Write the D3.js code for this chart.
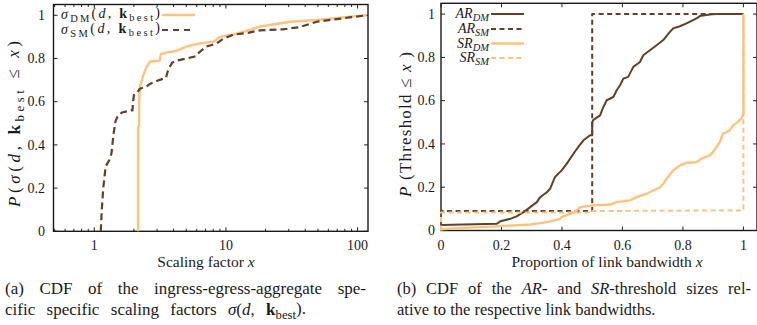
<!DOCTYPE html>
<html>
<head>
<meta charset="utf-8">
<script src="https://cdn.jsdelivr.net/npm/d3@7"></script>
<style>
    body { margin: 0; background: #fff; }
    svg text { font-family: "Liberation Serif", "DejaVu Serif", serif; fill: #1a1a1a; }
</style>
</head>
<body>
<svg id="chart" width="757" height="325"></svg>
<script>
// (a) scaling factors
let dmX = [2.15, 2.15, 2.19, 2.19, 2.22, 2.28, 2.35, 2.49, 2.56, 2.64, 2.8, 3.15, 3.2, 3.53, 4.21, 5.01, 6.33, 8.0, 9.0, 11.35, 12.8, 15.2, 18.1, 24.2, 30.6, 48.8, 65.3, 87.4, 117];
let dmY = [0, 0.48, 0.49, 0.6, 0.67, 0.69, 0.72, 0.76, 0.77, 0.785, 0.787, 0.79, 0.82, 0.827, 0.835, 0.855, 0.87, 0.878, 0.9, 0.91, 0.92, 0.932, 0.948, 0.96, 0.97, 0.978, 0.986, 0.994, 1];
let smX = [1.12, 1.14, 1.17, 1.22, 1.3, 1.35, 1.4, 1.45, 1.5, 1.62, 1.9, 1.95, 1.97, 2.0, 2.1, 2.22, 2.5, 2.6, 3.1, 3.5, 3.65, 3.9, 4.2, 5.0, 5.9, 6.3, 7.1, 8.5, 9.5, 11.3, 15, 18, 27, 36, 49, 65, 87, 117];
let smY = [0, 0.1, 0.2, 0.3, 0.33, 0.36, 0.45, 0.51, 0.53, 0.55, 0.56, 0.56, 0.6, 0.63, 0.64, 0.66, 0.67, 0.68, 0.7, 0.71, 0.75, 0.78, 0.79, 0.8, 0.81, 0.83, 0.855, 0.87, 0.89, 0.91, 0.92, 0.93, 0.935, 0.945, 0.97, 0.98, 0.99, 1];

// (b) threshold sizes relative to link bandwidth
let arDmX = [0, 0.185, 0.196, 0.229, 0.25, 0.273, 0.295, 0.317, 0.328, 0.35, 0.361, 0.372, 0.377, 0.399, 0.416, 0.438, 0.454, 0.471, 0.493, 0.5, 0.5, 0.503, 0.526, 0.537, 0.548, 0.57, 0.581, 0.592, 0.603, 0.619, 0.636, 0.658, 0.669, 0.691, 0.713, 0.735, 0.757, 0.768, 0.79, 0.812, 0.845, 0.856, 0.889, 0.911, 1];
let arDmY = [0.025, 0.031, 0.043, 0.054, 0.065, 0.085, 0.108, 0.131, 0.154, 0.177, 0.193, 0.231, 0.247, 0.278, 0.309, 0.355, 0.386, 0.417, 0.44, 0.44, 0.5, 0.51, 0.532, 0.571, 0.602, 0.617, 0.648, 0.671, 0.702, 0.71, 0.756, 0.779, 0.81, 0.833, 0.856, 0.88, 0.918, 0.934, 0.944, 0.957, 0.98, 0.991, 0.998, 1, 1];
let arSmX = [0, 0, 0.5, 0.5, 1];
let arSmY = [0, 0.09, 0.09, 1, 1];
let srDmX = [0, 0.075, 0.185, 0.295, 0.328, 0.361, 0.394, 0.399, 0.427, 0.443, 0.454, 0.46, 0.504, 0.559, 0.581, 0.625, 0.647, 0.68, 0.702, 0.724, 0.735, 0.746, 0.768, 0.79, 0.812, 0.845, 0.861, 0.889, 0.9, 0.911, 0.922, 0.933, 0.944, 0.955, 0.966, 0.982, 0.993, 1, 1];
let srDmY = [0.006, 0.012, 0.019, 0.028, 0.034, 0.042, 0.054, 0.062, 0.077, 0.085, 0.1, 0.108, 0.116, 0.12, 0.131, 0.139, 0.154, 0.17, 0.185, 0.2, 0.216, 0.239, 0.278, 0.301, 0.312, 0.316, 0.332, 0.347, 0.363, 0.386, 0.409, 0.448, 0.455, 0.463, 0.486, 0.502, 0.517, 0.54, 1];
let srSmX = [0, 0, 0.5, 0.5, 1, 1];
let srSmY = [0, 0.083, 0.083, 0.09, 0.093, 1];

let yTicks = [0, 0.2, 0.4, 0.6, 0.8, 1];
let yTickLabels = ["0", "0.2", "0.4", "0.6", "0.8", "1"];
let logTicks = [1, 10, 100];
let logTickLabels = ["1", "10", "100"];
let linTicks = [0, 0.2, 0.4, 0.6, 0.8, 1];
let linTickLabels = ["0", "0.2", "0.4", "0.6", "0.8", "1"];

const dark = "#633f27";
const light = "#ffc27d";

var svg = d3.select("#chart");

// writes a run of parts into a text element; sub parts are lowered
function rich(text, parts) {
    let lowered = false;
    parts.forEach(function (p) {
        let ts = text.append("tspan").text(p.t);
        if (p.i) ts.attr("font-style", "italic");
        if (p.b) ts.attr("font-weight", "bold");
        if (p.sub && !lowered) { ts.attr("dy", "0.28em").attr("font-size", "0.75em"); lowered = true; }
        else if (p.sub) { ts.attr("font-size", "0.75em"); }
        else if (lowered) { ts.attr("dy", "-0.28em"); lowered = false; }
    });
    return text;
}

// stretch the gaps of a text so that it spans the given length (math spacing)
function spread(text, len) {
    text.attr("textLength", len).attr("lengthAdjust", "spacing");
    return text;
}

function drawFrame(g, x, y, opts) {
    let [x0, x1] = x.range();
    let [y0, y1] = y.range();
    // ticks, pointing inward on all four sides
    yTicks.forEach(function (t, i) {
        g.append("line").attr("x1", x0).attr("x2", x0 + 4).attr("y1", y(t)).attr("y2", y(t));
        g.append("line").attr("x1", x1).attr("x2", x1 - 4).attr("y1", y(t)).attr("y2", y(t));
        g.append("text").attr("x", opts.yLabelX).attr("y", y(t)).attr("dy", "0.34em")
            .attr("text-anchor", "end").attr("font-size", 14).text(yTickLabels[i]);
    });
    opts.xTicks.forEach(function (t, i) {
        g.append("line").attr("x1", x(t)).attr("x2", x(t)).attr("y1", y0).attr("y2", y0 - 4);
        g.append("line").attr("x1", x(t)).attr("x2", x(t)).attr("y1", y1).attr("y2", y1 + 4);
        g.append("text").attr("x", x(t)).attr("y", 249.5).attr("text-anchor", "middle")
            .attr("font-size", 14).text(opts.xTickLabels[i]);
    });
    (opts.minor || []).forEach(function (t) {
        g.append("line").attr("x1", x(t)).attr("x2", x(t)).attr("y1", y0).attr("y2", y0 - 2.5);
        g.append("line").attr("x1", x(t)).attr("x2", x(t)).attr("y1", y1).attr("y2", y1 + 2.5);
    });
    g.selectAll("line").attr("stroke", "#222").attr("stroke-width", 1);
    g.append("rect").attr("x", x0).attr("y", y1).attr("width", x1 - x0).attr("height", y0 - y1)
        .attr("fill", "none").attr("stroke", "#1a1a1a").attr("stroke-width", 1.4);
}

function drawCurve(g, x, y, xs, ys, color, width, dash) {
    let line = d3.line().x(d => x(d[0])).y(d => y(d[1]));
    g.append("path").datum(d3.zip(xs, ys)).attr("d", line)
        .attr("fill", "none").attr("stroke", color).attr("stroke-width", width)
        .attr("stroke-dasharray", dash || null).attr("stroke-linejoin", "round");
}

function legendRow(g, xEnd, yy, parts, color, width, dash, len) {
    let t = rich(g.append("text").attr("x", len ? xEnd - 1 - len : xEnd - 1).attr("y", yy).attr("dy", "0.3em")
        .attr("text-anchor", len ? "start" : "end").attr("font-size", 14), parts);
    if (len) spread(t, len);
    g.append("line").attr("x1", xEnd + 1).attr("x2", xEnd + 34).attr("y1", yy).attr("y2", yy)
        .attr("stroke", color).attr("stroke-width", width).attr("stroke-dasharray", dash || null);
}

// ---------- panel (a) ----------
function drawLeft() {
    let x = d3.scaleLog().domain([0.49, 120]).range([53.5, 368]);
    let y = d3.scaleLinear().domain([0, 1.05]).range([231.3, 4.5]);
    let g = svg.append("g");
    let minor = [];
    [0.1, 1, 10].forEach(function (dec) {
        for (let k = 2; k <= 9; k++) {
            let v = k * dec;
            if (v > 0.49 && v < 120 && logTicks.indexOf(v) < 0) minor.push(v);
        }
    });
    drawFrame(g, x, y, { yLabelX: 45, xTicks: logTicks, xTickLabels: logTickLabels, minor: minor });
    drawCurve(g, x, y, dmX, dmY, light, 2.4);
    drawCurve(g, x, y, smX, smY, dark, 2.2, "7,4");

    legendRow(g, 161, 15, [{ t: "σ", i: true }, { t: "DM", sub: true }, { t: "(" }, { t: "d", i: true }, { t: ", " },
        { t: "k", b: true }, { t: "best", sub: true }, { t: ")" }], light, 2.4, null, 99);
    legendRow(g, 161, 30, [{ t: "σ", i: true }, { t: "SM", sub: true }, { t: "(" }, { t: "d", i: true }, { t: ", " },
        { t: "k", b: true }, { t: "best", sub: true }, { t: ")" }], dark, 2.2, "6,5", 99);

    rich(g.append("text").attr("x", 206).attr("y", 267).attr("text-anchor", "middle").attr("font-size", 15.5),
        [{ t: "Scaling factor " }, { t: "x", i: true }]);
    spread(rich(g.append("text").attr("transform", "translate(20,207) rotate(-90)").attr("font-size", 17),
        [{ t: "P", i: true }, { t: "(" }, { t: "σ", i: true }, { t: "(" }, { t: "d", i: true }, { t: ", " },
         { t: "k", b: true }, { t: "best", sub: true }, { t: " ≤ " }, { t: "x", i: true }, { t: ")" }]), 166);
}

// ---------- panel (b) ----------
function drawRight() {
    let x = d3.scaleLinear().domain([0, 1.045]).range([441, 757]);
    let y = d3.scaleLinear().domain([0, 1.05]).range([230.5, 3.3]);
    let g = svg.append("g");
    drawFrame(g, x, y, { yLabelX: 435, xTicks: linTicks, xTickLabels: linTickLabels });
    drawCurve(g, x, y, arDmX, arDmY, dark, 2);
    drawCurve(g, x, y, arSmX, arSmY, dark, 2, "5,3.5");
    drawCurve(g, x, y, srDmX, srDmY, light, 2.4);
    drawCurve(g, x, y, srSmX, srSmY, light, 2, "5,3.5");

    legendRow(g, 490, 14, [{ t: "AR", i: true }, { t: "DM", i: true, sub: true }], dark, 2);
    legendRow(g, 490, 29, [{ t: "AR", i: true }, { t: "SM", i: true, sub: true }], dark, 2, "5,3.5");
    legendRow(g, 490, 43.5, [{ t: "SR", i: true }, { t: "DM", i: true, sub: true }], light, 2.4);
    legendRow(g, 490, 58, [{ t: "SR", i: true }, { t: "SM", i: true, sub: true }], light, 2, "5,3.5");

    rich(g.append("text").attr("x", 607).attr("y", 267).attr("text-anchor", "middle").attr("font-size", 15.5),
        [{ t: "Proportion of link bandwidth " }, { t: "x", i: true }]);
    spread(rich(g.append("text").attr("transform", "translate(411,197) rotate(-90)").attr("font-size", 17),
        [{ t: "P", i: true }, { t: " (Threshold ≤ " }, { t: "x", i: true }, { t: " )" }]), 145);
}

// ---------- captions ----------
function captionLine(x0, x1, yy, size, parts) {
    let t = rich(svg.append("text").attr("x", x0).attr("y", yy).attr("font-size", size), parts);
    if (x1) {
        let natural = t.node().getComputedTextLength();
        let spaces = (t.text().match(/ /g) || []).length;
        t.attr("word-spacing", (x1 - x0 - natural) / spaces);
    }
}

drawLeft();
drawRight();
captionLine(5, 366, 294, 17, [{ t: "(a) CDF of the ingress-egress-aggregate spe-" }]);
captionLine(5, 306, 315, 17, [{ t: "cific specific scaling factors " }, { t: "σ", i: true }, { t: "(" }, { t: "d", i: true }, { t: ", " },
    { t: "k", b: true }, { t: "best", sub: true }, { t: ")." }]);
captionLine(397, 751, 294, 16.5, [{ t: "(b) CDF of the " }, { t: "AR", i: true }, { t: "- and " }, { t: "SR", i: true }, { t: "-threshold sizes rel-" }]);
captionLine(397, 0, 315, 16.5, [{ t: "ative to the respective link bandwidths." }]);
</script>
</body>
</html>
